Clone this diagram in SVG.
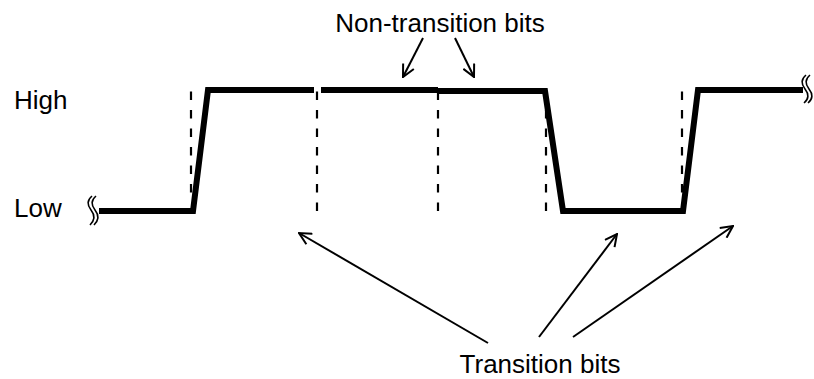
<svg xmlns="http://www.w3.org/2000/svg" width="814" height="379" viewBox="0 0 814 379">
<defs>
<style>
.lbl{font-family:"Liberation Sans",Arial,sans-serif;font-size:26px;fill:#000}
.wave{fill:none;stroke:#000;stroke-width:6;stroke-linejoin:miter}
.dash{fill:none;stroke:#000;stroke-width:2.2;stroke-dasharray:8.5 10}
.brk{fill:none;stroke:#000;stroke-width:1.6}
.arr{fill:none;stroke:#000;stroke-width:2;marker-end:url(#ah)}
</style>
<marker id="ah" viewBox="0 0 14 14" refX="13" refY="7" markerWidth="14" markerHeight="14" markerUnits="userSpaceOnUse" orient="auto">
<path d="M1,1 L13,7 L1,13" fill="none" stroke="#000" stroke-width="2"/>
</marker>
</defs>
<rect width="814" height="379" fill="#fff"/>
<g id="labels">
<text class="lbl" x="14" y="109">High</text>
<text class="lbl" x="14" y="217">Low</text>
</g>
<g id="waveform">
<polyline class="wave" points="99,211 193,211 208,90 314,90"/>
<polyline class="wave" points="321,90 438,90"/>
<polyline class="wave" points="438,91 545,91 563,211 683,211 698,90 803,90"/>
</g>
<g id="boundaries">
<line class="dash" x1="191" y1="91.5" x2="191" y2="193"/>
<line class="dash" x1="317" y1="91.5" x2="317" y2="211"/>
<line class="dash" x1="438" y1="91.5" x2="438" y2="211"/>
<line class="dash" x1="546" y1="91.5" x2="546" y2="211"/>
<line class="dash" x1="682" y1="91.5" x2="682" y2="194"/>
</g>
<g id="breaks">
<path class="brk" d="M92,196 C87,200 87,205 91,210 S95,220 90,225"/>
<path class="brk" d="M96,196 C91,200 91,205 95,210 S99,220 94,225"/>
<path class="brk" d="M806,75 C801,79 801,84 805,89 S809,99 804,103"/>
<path class="brk" d="M810,75 C805,79 805,84 809,89 S813,99 808,103"/>
</g>
<g id="non-transition">
<text class="lbl" x="440" y="32" text-anchor="middle">Non-transition bits</text>
</g>
<g id="transition">
<text class="lbl" x="540" y="373" text-anchor="middle">Transition bits</text>
</g>
<g id="connectors">
<line class="arr" x1="423" y1="38" x2="403" y2="77"/>
<line class="arr" x1="455" y1="38" x2="474" y2="77"/>
<line class="arr" x1="488" y1="343" x2="299" y2="233"/>
<line class="arr" x1="539" y1="337" x2="617" y2="234"/>
<line class="arr" x1="573" y1="337" x2="733" y2="226"/>
</g>
</svg>
